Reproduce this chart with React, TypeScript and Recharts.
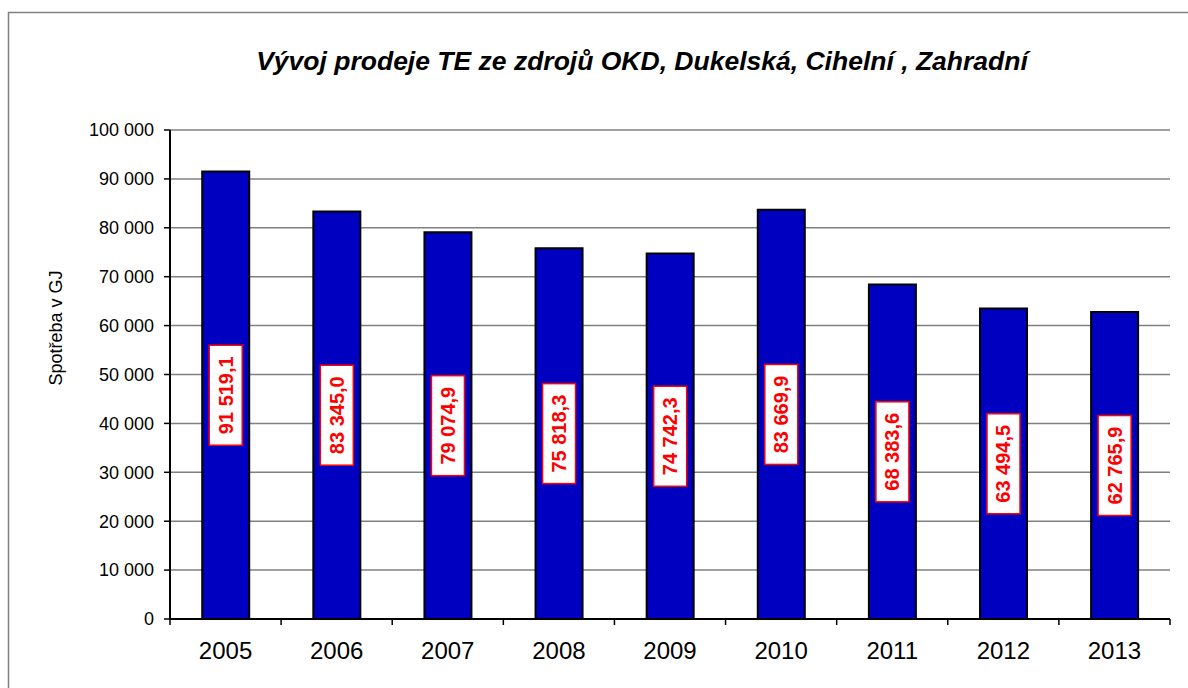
import React from "react";
import {
  BarChart,
  Bar,
  XAxis,
  YAxis,
  CartesianGrid,
  LabelList,
} from "recharts";

const years = ["2005", "2006", "2007", "2008", "2009", "2010", "2011", "2012", "2013"];
const values = [91519.1, 83345.0, 79074.9, 75818.3, 74742.3, 83669.9, 68383.6, 63494.5, 62765.9];
const yTicks = [0, 10000, 20000, 30000, 40000, 50000, 60000, 70000, 80000, 90000, 100000];

const data = years.map((y, i) => ({ year: y, value: values[i] }));

const FONT = "'Liberation Sans', Arial, sans-serif";
const X_TICK_SIZE = 6;
const X_TICK_MARGIN = 16;

function groupThousands(intPart: string): string {
  return intPart.replace(/\B(?=(\d{3})+(?!\d))/g, " ");
}

function fmtInt(v: number): string {
  return groupThousands(String(Math.round(v)));
}

function fmtDec(v: number): string {
  const s = v.toFixed(1);
  const [a, b] = s.split(".");
  return groupThousands(a) + "," + b;
}

const XTick = (props: any) => {
  const { x, y, payload, index, visibleTicksCount, width } = props;
  const count = visibleTicksCount || years.length;
  const w = typeof width === "number" ? width : 1000;
  const half = w / count / 2;
  const axisY = y - X_TICK_SIZE - X_TICK_MARGIN;
  return (
    <g>
      <line x1={x - half} y1={axisY} x2={x - half} y2={axisY + 6} stroke="#000" strokeWidth={1.5} />
      {index === count - 1 ? (
        <line x1={x + half} y1={axisY} x2={x + half} y2={axisY + 6} stroke="#000" strokeWidth={1.5} />
      ) : null}
      <text
        x={x}
        y={y}
        textAnchor="middle"
        dominantBaseline="hanging"
        fill="#000"
        fontSize={24}
        fontFamily={FONT}
      >
        {payload.value}
      </text>
    </g>
  );
};

const ValueLabel = (props: any) => {
  const { x, y, width, height, value } = props;
  const cx = Number(x) + Number(width) / 2;
  const cy = Number(y) + Number(height) / 2;
  const boxW = 33;
  const boxH = 100;
  return (
    <g>
      <rect
        x={cx - boxW / 2}
        y={cy - boxH / 2}
        width={boxW}
        height={boxH}
        fill="#ffffff"
        stroke="#ff0000"
        strokeWidth={1.5}
      />
      <text
        x={cx}
        y={cy}
        transform={`rotate(-90 ${cx} ${cy})`}
        textAnchor="middle"
        dominantBaseline="central"
        fill="#ff0000"
        fontFamily={FONT}
        fontWeight="bold"
        fontSize={20}
      >
        {fmtDec(Number(value))}
      </text>
    </g>
  );
};

export default function App() {
  return (
    <div
      style={{
        position: "absolute",
        left: 0,
        top: 0,
        width: 1188,
        height: 688,
        background: "#ffffff",
        fontFamily: FONT,
      }}
    >
      <svg
        width={1188}
        height={688}
        style={{ position: "absolute", left: 0, top: 0 }}
      >
        <line x1={8} y1={12.5} x2={1188} y2={12.5} stroke="#808080" strokeWidth={1.5} />
        <line x1={8.5} y1={12} x2={8.5} y2={688} stroke="#808080" strokeWidth={1.5} />
        <text
          x={642}
          y={61}
          textAnchor="middle"
          dominantBaseline="central"
          fontFamily={FONT}
          fontWeight="bold"
          fontStyle="italic"
          fontSize={26.5}
          fill="#000"
        >
          Vývoj prodeje TE ze zdrojů OKD, Dukelská, Cihelní , Zahradní
        </text>
        <text
          x={56}
          y={328}
          transform="rotate(-90 56 328)"
          textAnchor="middle"
          dominantBaseline="central"
          fontFamily={FONT}
          fontSize={18}
          fill="#000"
        >
          Spotřeba v GJ
        </text>
      </svg>
      <div style={{ position: "absolute", left: 0, top: 0 }}>
        <BarChart
          width={1188}
          height={688}
          data={data}
          margin={{ top: 130, right: 18, left: 110, bottom: 39 }}
          barCategoryGap="29%"
        >
          <CartesianGrid
            vertical={false}
            stroke="#808080"
            strokeWidth={1.5}
            yAxisId="left"
            xAxisId="cat"
          />
          <XAxis
            xAxisId="cat"
            dataKey="year"
            type="category"
            tickLine={false}
            tickSize={X_TICK_SIZE}
            axisLine={{ stroke: "#000", strokeWidth: 2 }}
            tick={<XTick />}
            tickMargin={X_TICK_MARGIN}
            height={30}
            interval={0}
          />
          <YAxis
            yAxisId="left"
            domain={[0, 100000]}
            ticks={yTicks}
            interval={0}
            tickFormatter={fmtInt}
            width={60}
            axisLine={{ stroke: "#000", strokeWidth: 2 }}
            tickLine={{ stroke: "#000", strokeWidth: 1.5 }}
            tickSize={6}
            tickMargin={10}
            tick={{ fill: "#000", fontSize: 18, fontFamily: FONT }}
          />
          <YAxis
            yAxisId="right"
            orientation="right"
            domain={[0, 100000]}
            tick={false}
            tickLine={false}
            axisLine={{ stroke: "#808080", strokeWidth: 2 }}
            width={0}
          />
          <Bar
            dataKey="value"
            xAxisId="cat"
            yAxisId="left"
            fill="#0000C0"
            stroke="#000"
            strokeWidth={2}
            isAnimationActive={false}
          >
            <LabelList dataKey="value" content={ValueLabel} />
          </Bar>
        </BarChart>
      </div>
    </div>
  );
}
